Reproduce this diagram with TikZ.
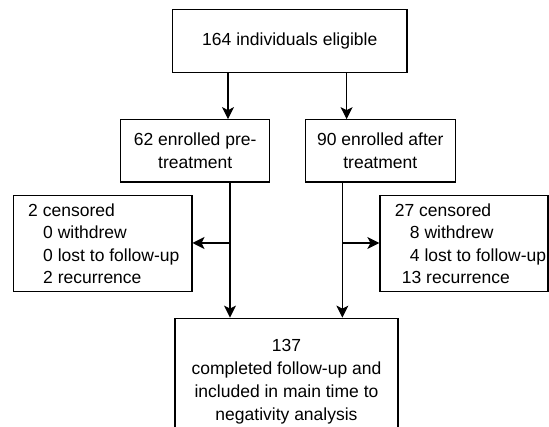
\documentclass[tikz,border=0pt]{standalone}
\usepackage{fontspec}
\setmainfont{Liberation Sans}
\usetikzlibrary{arrows.meta,calc}
\begin{document}
\begin{tikzpicture}[x=1pt,y=-1pt,
  box/.style={draw, line width=1.2pt, inner sep=0pt, align=center,
    font=\fontsize{17.5}{23}\selectfont},
  arr/.style={line width=1.2pt, -{Stealth[length=12pt,width=12pt,inset=3pt]}},
  lbl/.style={anchor=west, align=left, xshift=12pt, font=\fontsize{17.5}{22.3}\selectfont}]
\useasboundingbox (0,0) rectangle (549,427);
\clip (0,0) rectangle (549,427);
\node[box, minimum width=234.3pt, minimum height=63pt] (top) at (289.8,41.3) {164 individuals eligible};
\node[box, minimum width=148.8pt, minimum height=62.3pt] (ml) at (195.2,150.9) {62 enrolled pre-\\treatment};
\node[box, minimum width=149.9pt, minimum height=62.3pt] (mr) at (380.3,150.9) {90 enrolled after\\treatment};
\node[box, minimum width=178.6pt, minimum height=95.5pt,
  label={[lbl]west:{2 censored\\\hspace*{15pt}0 withdrew\\\hspace*{15pt}0 lost to follow-up\\\hspace*{15pt}2 recurrence}}] (lc) at (102.6,243.6) {};
\node[box, minimum width=168pt, minimum height=95.5pt,
  label={[lbl]west:{27 censored\\\hspace*{15pt}8 withdrew\\\hspace*{15pt}4 lost to follow-up\\\hspace*{7pt}13 recurrence}}] (rc) at (464,243.6) {};
\node[box, minimum width=223pt, minimum height=128pt] (bot) at (286.5,382.2)
  {137\\completed follow-up and\\included in main time to\\negativity analysis};
\coordinate (xa) at (228,0);
\coordinate (xb) at (346.6,0);
\coordinate (xl) at (230,243);
\coordinate (xr) at (342.4,243);
\draw[arr] (top.south -| xa) -- (ml.north -| xa);
\draw[arr] (top.south -| xb) -- (mr.north -| xb);
\draw[arr] (ml.south -| xl) -- (bot.north -| xl);
\draw[arr] (mr.south -| xr) -- (bot.north -| xr);
\draw[arr] (xl) -- (lc.east |- xl);
\draw[arr] (xr) -- (rc.west |- xr);
\end{tikzpicture}
\end{document}
